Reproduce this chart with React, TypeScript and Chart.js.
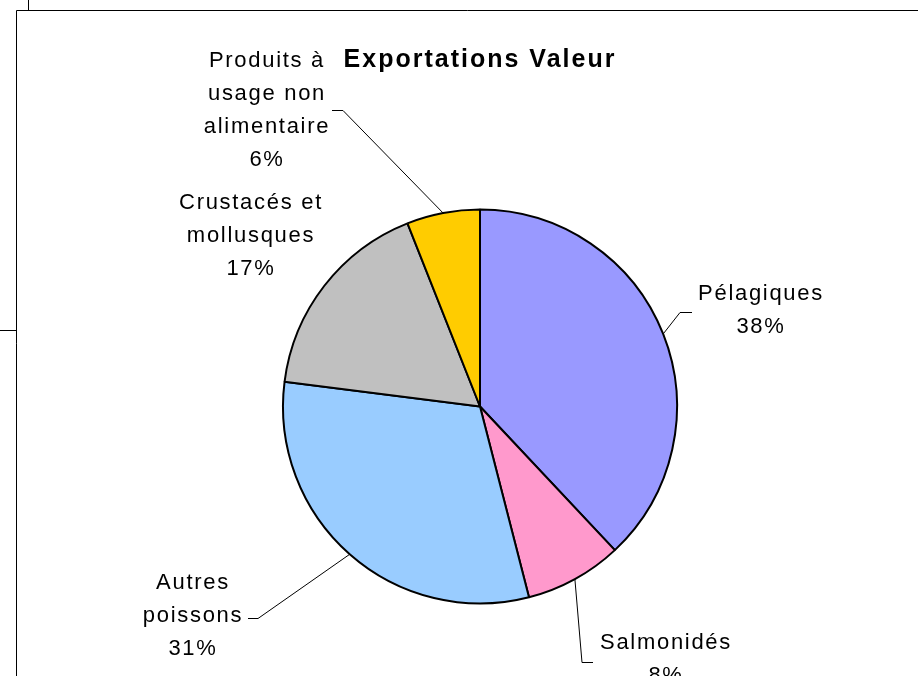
import React, { useEffect, useRef } from "react";
import { Chart, registerables } from "chart.js";

Chart.register(...registerables);

// Export value shares by product group (percent)
const categories = [
  "Pélagiques",
  "Salmonidés",
  "Autres poissons",
  "Crustacés et mollusques",
  "Produits à usage non alimentaire",
];
const shares = [38, 8, 31, 17, 6];
const sliceColors = ["#9999FF", "#FF99CC", "#99CCFF", "#C0C0C0", "#FFCC00"];

// How each category name wraps in its data label
const labelLines = [
  ["Pélagiques"],
  ["Salmonidés"],
  ["Autres", "poissons"],
  ["Crustacés et", "mollusques"],
  ["Produits à", "usage non", "alimentaire"],
];

const TITLE = "Exportations Valeur";

// Label placement: text centre x, first line middle y, and optional leader elbow
type LabelLayout = {
  cx: number;
  y: number;
  leader?: { sx: number; sy: number; ex: number; ey: number };
};
const labelLayout: LabelLayout[] = [
  { cx: 760, y: 294, leader: { sx: 692, sy: 312, ex: 680, ey: 312 } },
  { cx: 665, y: 643, leader: { sx: 593, sy: 662, ex: 582, ey: 662 } },
  { cx: 192, y: 583, leader: { sx: 248, sy: 618, ex: 258, ey: 618 } },
  { cx: 250, y: 203 },
  { cx: 266, y: 61, leader: { sx: 332, sy: 110, ex: 343, ey: 110 } },
];
const LINE_HEIGHT = 33;
const FONT = '22px "Liberation Sans", Arial, sans-serif';

const decorPlugin = {
  id: "decor",
  beforeDraw(chart: any) {
    const ctx = chart.ctx as CanvasRenderingContext2D;
    ctx.save();
    ctx.fillStyle = "#ffffff";
    ctx.fillRect(0, 0, chart.width, chart.height);
    // surrounding frame lines
    ctx.strokeStyle = "#000";
    ctx.lineWidth = 1;
    ctx.beginPath();
    ctx.moveTo(28.5, 0);
    ctx.lineTo(28.5, 10.5);
    ctx.moveTo(16.5, 10.5);
    ctx.lineTo(chart.width, 10.5);
    ctx.moveTo(16.5, 10.5);
    ctx.lineTo(16.5, chart.height);
    ctx.moveTo(0, 330.5);
    ctx.lineTo(16.5, 330.5);
    ctx.stroke();
    ctx.restore();
  },
  afterDatasetsDraw(chart: any) {
    const ctx = chart.ctx as CanvasRenderingContext2D;
    const arcs = chart.getDatasetMeta(0).data;
    ctx.save();
    // title
    ctx.fillStyle = "#000";
    ctx.textAlign = "center";
    ctx.textBaseline = "middle";
    ctx.font = 'bold 25px "Liberation Sans", Arial, sans-serif';
    (ctx as any).letterSpacing = "2px";
    ctx.fillText(TITLE, 480, 60);

    // data labels with leader lines
    ctx.font = FONT;
    (ctx as any).letterSpacing = "1.7px";
    arcs.forEach((arc: any, i: number) => {
      const lay = labelLayout[i];
      const lines = [...labelLines[i], `${shares[i]}%`];
      lines.forEach((t, k) => {
        ctx.fillText(t, lay.cx + 1, lay.y + k * LINE_HEIGHT);
      });
      if (lay.leader) {
        const p = arc.getProps(["x", "y", "startAngle", "endAngle", "outerRadius"], true);
        const mid = (p.startAngle + p.endAngle) / 2;
        const px = p.x + Math.cos(mid) * p.outerRadius;
        const py = p.y + Math.sin(mid) * p.outerRadius;
        ctx.strokeStyle = "#000";
        ctx.lineWidth = 1;
        ctx.beginPath();
        ctx.moveTo(lay.leader.sx, lay.leader.sy + 0.5);
        ctx.lineTo(lay.leader.ex, lay.leader.ey + 0.5);
        ctx.lineTo(px, py);
        ctx.stroke();
      }
    });
    ctx.restore();
  },
};

export default function App() {
  const ref = useRef<HTMLCanvasElement | null>(null);
  useEffect(() => {
    if (!ref.current) return;
    const chart = new Chart(ref.current, {
      type: "pie",
      data: {
        labels: categories,
        datasets: [
          {
            data: shares,
            backgroundColor: sliceColors,
            borderColor: "#000",
            borderWidth: 2,
          },
        ],
      },
      options: {
        animation: false,
        responsive: false,
        radius: 197,
        layout: { padding: { left: 42, right: 0, top: 137, bottom: 0 } },
        plugins: {
          legend: { display: false },
          tooltip: { enabled: false },
          title: { display: false },
        },
      },
      plugins: [decorPlugin],
    });
    return () => chart.destroy();
  }, []);
  return (
    <div style={{ position: "absolute", left: 0, top: 0, width: 918, height: 676 }}>
      <canvas ref={ref} width={918} height={676} style={{ width: 918, height: 676 }} />
    </div>
  );
}
